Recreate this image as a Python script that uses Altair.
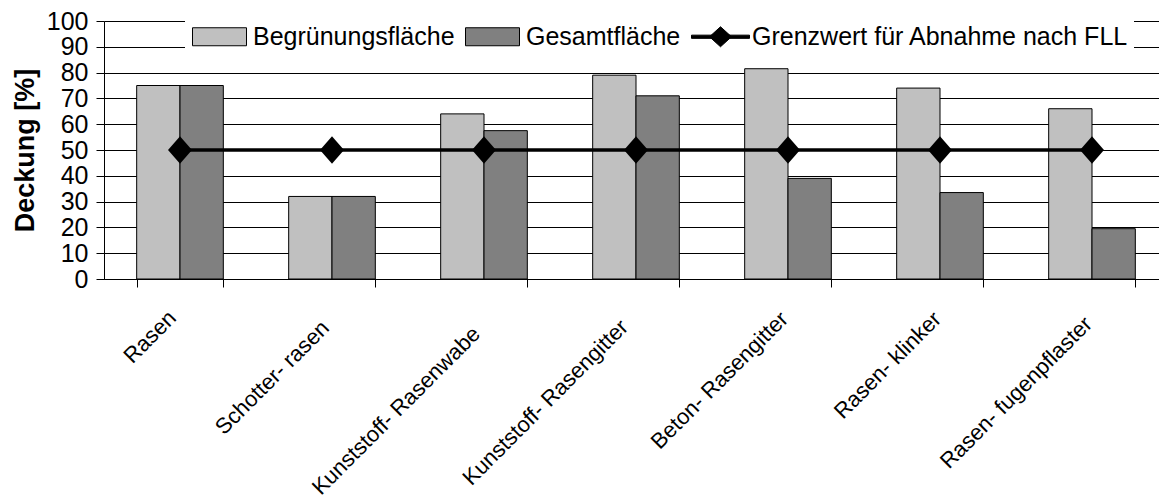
import json
import altair as alt
import pandas as pd

# ---- data ----
categories = ["Rasen", "Schotter- rasen", "Kunststoff- Rasenwabe", "Kunststoff- Rasengitter",
              "Beton- Rasengitter", "Rasen- klinker", "Rasen- fugenpflaster"]
begruenung = [75, 32, 64, 79, 81.5, 74, 66]
gesamt = [75, 32, 57.5, 71, 39, 33.5, 19.5]
grenzwert = [50, 50, 50, 50, 50, 50, 50]
series_names = ["Begrünungsfläche", "Gesamtfläche", "Grenzwert für Abnahme nach FLL"]
series_colors = ["#c0c0c0", "#808080", "#000000"]
y_ticks = [0, 10, 20, 30, 40, 50, 60, 70, 80, 90, 100]

# ---- label placement style (per category label) ----
label_dx = [-8, -7, -8, -12, -4, -3, -4]
label_pad = [27, 37, 43, 36, 28, 28, 33]

FONT = "Liberation Sans"

bars_df = pd.DataFrame(
    [{"category": c, "series": series_names[0], "value": v} for c, v in zip(categories, begruenung)]
    + [{"category": c, "series": series_names[1], "value": v} for c, v in zip(categories, gesamt)]
)
line_df = pd.DataFrame(
    [{"category": c, "series": series_names[2], "value": v} for c, v in zip(categories, grenzwert)]
)

cat_json = json.dumps(categories)
offset_expr = f"{json.dumps(label_dx)}[indexof({cat_json}, datum.value)]"
pad_expr = f"{json.dumps(label_pad)}[indexof({cat_json}, datum.value)]"

x_enc = alt.X(
    "category:N",
    sort=categories,
    scale=alt.Scale(paddingInner=0.43, paddingOuter=0.215, range=[0, 1064]),
    axis=alt.Axis(
        title=None,
        labelAngle=-45,
        labelAlign="right",
        labelBaseline="middle",
        labelFontSize=22,
        labelFont=FONT,
        labelColor="black",
        labelLimit=500,
        labelOffset=alt.ExprRef(offset_expr),
        labelPadding=alt.ExprRef(pad_expr),
        tickBand="extent",
        tickSize=8,
        tickColor="black",
        tickWidth=1,
        domainColor="black",
        domainWidth=1,
        grid=False,
        labelOverlap=False,
    ),
)

y_enc = alt.Y(
    "value:Q",
    scale=alt.Scale(domain=[0, 100], nice=False, zero=True),
    axis=alt.Axis(
        values=y_ticks,
        title="Deckung [%]",
        titleFont=FONT,
        titleFontSize=27,
        titleFontWeight="bold",
        titleColor="black",
        titlePadding=7,
        labelFont=FONT,
        labelFontSize=25,
        labelColor="black",
        labelPadding=8,
        labelOverlap=False,
        labelFlush=False,
        tickSize=8,
        tickColor="black",
        domainColor="black",
        grid=True,
        gridColor="black",
        gridWidth=1,
        gridOpacity=1,
    ),
)

# legend symbol shapes (unit = 10 px with symbolSize 400)
bar_path = "M-1,-0.9H4.4V0.9H-1Z"
line_path = "M-1,-0.16H4.8V0.16H-1Z M0.8,0L1.9,-1L3,0L1.9,1Z"
# plotted marker: slightly tall diamond
marker_path = "M0,-1.15L1,0L0,1.15L-1,0Z"

legend = alt.Legend(
    title=None,
    orient="none",
    direction="horizontal",
    legendX=81,
    legendY=-2,
    padding=5,
    fillColor="white",
    labelFont=FONT,
    labelFontSize=25,
    labelColor="black",
    labelLimit=0,
    labelOffset=38,
    columnPadding=8,
    symbolSize=400,
    symbolStrokeColor="black",
    symbolStrokeWidth=1,
    symbolOpacity=1,
)

color_scale = alt.Scale(domain=series_names, range=series_colors)
shape_scale = alt.Scale(domain=series_names, range=[bar_path, bar_path, line_path])
stroke_scale = alt.Scale(domain=series_names, range=["black", "black", "black"])

bars = alt.Chart(bars_df).mark_bar(stroke="black", strokeWidth=1, opacity=1).encode(
    x=x_enc,
    xOffset=alt.XOffset("series:N", sort=series_names[:2]),
    y=y_enc,
    color=alt.Color("series:N", scale=color_scale, legend=legend),
)

line = alt.Chart(line_df).mark_line(strokeWidth=3.5, color="black").encode(
    x=x_enc,
    y=y_enc,
)

points = alt.Chart(line_df).mark_point(shape=marker_path, filled=True, size=576, opacity=1, color="black").encode(
    x=x_enc,
    y=y_enc,
)

# invisible layer that only feeds the legend symbol shapes
legend_feed = alt.Chart(line_df).mark_point(filled=True, opacity=0, size=400).encode(
    x=x_enc,
    y=y_enc,
    color=alt.Color("series:N", scale=color_scale, legend=legend),
    shape=alt.Shape("series:N", scale=shape_scale, legend=legend),
    stroke=alt.Stroke("series:N", scale=stroke_scale, legend=legend),
)

chart = (
    alt.layer(bars, line, points, legend_feed)
    .properties(
        width=1055,
        height=258,
        autosize=alt.AutoSizeParams(type="none"),
        padding={"left": 104, "top": 21, "right": 0, "bottom": 221},
        background="white",
    )
    .configure_view(stroke=None)
    .configure(font=FONT)
)

chart.save("out.html", embed_options={"renderer": "svg", "actions": False})
